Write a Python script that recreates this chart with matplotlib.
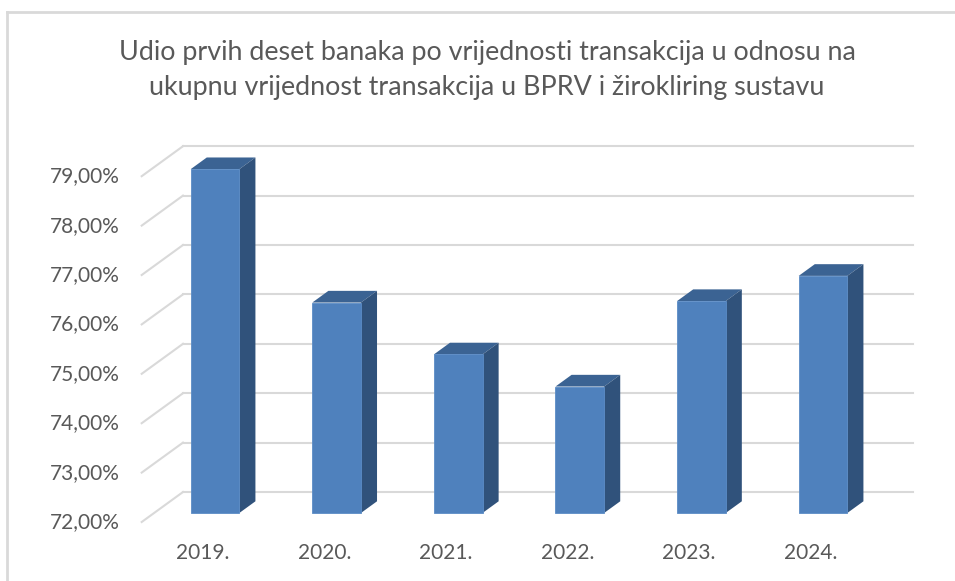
import numpy as np
import matplotlib.pyplot as plt
from matplotlib.patches import Polygon
from matplotlib.lines import Line2D

years = ['2019.', '2020.', '2021.', '2022.', '2023.', '2024.']
share = [78.96, 76.26, 75.21, 74.56, 76.29, 76.80]
yticks = [72, 73, 74, 75, 76, 77, 78, 79]
ytick_labels = ['72,00%', '73,00%', '74,00%', '75,00%', '76,00%', '77,00%', '78,00%', '79,00%']
title = ('Udio prvih deset banaka po vrijednosti transakcija u odnosu na\n'
         'ukupnu vrijednost transakcija u BPRV i žirokliring sustavu')

plt.rcParams['font.family'] = ['Lato', 'DejaVu Sans']
txt = '#595959'
front = '#4F81BD'
top = '#3B6393'
side = '#30527B'
grid = '#D9D9D9'

W, H = 955, 581
fig = plt.figure(figsize=(W / 100, H / 100), dpi=100)
ax = fig.add_axes([0, 0, 1, 1])

# pixel calibration of the "bar front" plane
x0, xs = 215, 121.6
y0, ys = 513, 49.4
ax.set_xlim((0 - x0) / xs, (W - x0) / xs)
ax.set_ylim(72 - (H - y0) / ys, 72 + y0 / ys)
ax.axis('off')

# 3D depth: full floor depth offset, bars from depth 0.3 to 0.69
DX, DY = 41.3 / xs, 30 / ys
d_front, d_bar = 0.3, 0.39
bw = 0.4
bdx, bdy = d_bar * DX, d_bar * DY

x_wall_front = (141.7 - x0) / xs
x_right = (913 - x0) / xs

for v, lab in zip(yticks, ytick_labels):
    yf = v - d_front * DY
    yb = v + (1 - d_front) * DY
    xb = x_wall_front + DX
    ax.plot([x_wall_front, xb], [yf, yb], color=grid, lw=1.5, zorder=1)
    ax.plot([xb, x_right], [yb, yb], color=grid, lw=1.5, zorder=1)
    ax.text((119.5 - x0) / xs, yf, lab, ha='right', va='center',
            fontsize=15, color=txt)

x = np.arange(len(years))
ax.bar(x, np.array(share) - 72, bottom=72, width=bw, color=front,
       edgecolor='#5B8CC6', linewidth=0.6, zorder=3)
for xi, v in zip(x, share):
    l, r = xi - bw / 2, xi + bw / 2
    ax.add_patch(Polygon([(l, v), (r, v), (r + bdx, v + bdy), (l + bdx, v + bdy)],
                         closed=True, facecolor=top, edgecolor='none', zorder=2))
    ax.add_patch(Polygon([(r, 72), (r + bdx, 72 + bdy), (r + bdx, v + bdy), (r, v)],
                         closed=True, facecolor=side, edgecolor='none', zorder=2))

ycat = 72 - (553 - y0) / ys
for xi, lab in zip(x, years):
    ax.text(xi - d_front * DX, ycat, lab, ha='center', va='center',
            fontsize=15, color=txt)

fig.text(487 / W, 1 - 70 / H, title, ha='center', va='center', fontsize=19.4,
         color=txt, linespacing=1.5)

# chart border (top and left edges visible)
fig.add_artist(Line2D([7 / W, 7 / W], [0, 1 - 12 / H], color=grid, lw=2))
fig.add_artist(Line2D([7 / W, 1], [1 - 12 / H, 1 - 12 / H], color=grid, lw=2))

fig.savefig('out.png', dpi=100)
